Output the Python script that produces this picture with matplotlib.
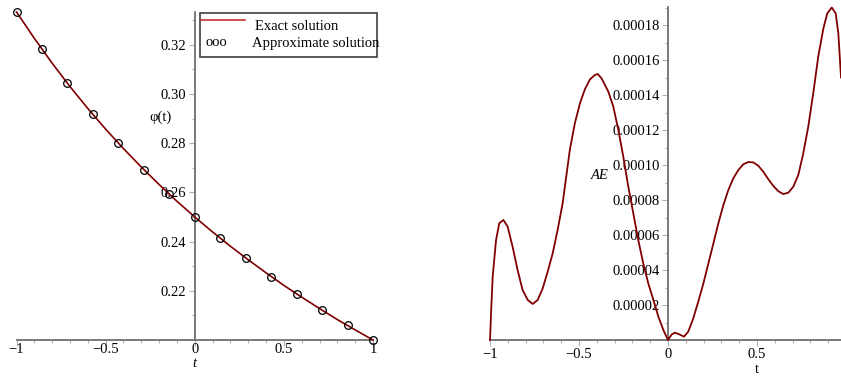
import matplotlib
matplotlib.use("Agg")
import matplotlib.pyplot as plt
from matplotlib.ticker import MultipleLocator
from matplotlib.patches import Rectangle
from matplotlib.lines import Line2D

plt.rcParams['font.family'] = ['Liberation Serif', 'DejaVu Serif']
plt.rcParams['font.size'] = 10.5

# ---- data ----
# exact solution curve
t_exact = [-1.0, -0.9, -0.8, -0.7, -0.6, -0.5, -0.4, -0.3, -0.2, -0.1, 0.0,
           0.1, 0.2, 0.3, 0.4, 0.5, 0.6, 0.7, 0.8, 0.9, 1.0]
phi_exact = [0.3333, 0.3226, 0.3125, 0.3030, 0.2941, 0.2857, 0.2778, 0.2703,
             0.2632, 0.2564, 0.2500, 0.2439, 0.2381, 0.2326, 0.2273, 0.2222,
             0.2174, 0.2128, 0.2083, 0.2041, 0.2000]

# approximate solution (markers)
t_approx = [-1.0, -0.857, -0.714, -0.571, -0.429, -0.286, -0.143, 0.0,
            0.143, 0.286, 0.429, 0.571, 0.714, 0.857, 1.0]
phi_approx = [0.3333, 0.3182, 0.3043, 0.2917, 0.2800, 0.2692, 0.2593, 0.2500,
              0.2414, 0.2333, 0.2258, 0.2188, 0.2121, 0.2059, 0.2000]

# absolute error
t_ae = [-1.0, -0.9925, -0.985, -0.966, -0.948, -0.925, -0.901, -0.873,
        -0.845, -0.817, -0.788, -0.760, -0.732, -0.704, -0.676, -0.648,
        -0.620, -0.592, -0.551, -0.523, -0.494, -0.466, -0.438, -0.410,
        -0.395, -0.373, -0.335, -0.307, -0.279, -0.251, -0.223, -0.195,
        -0.167, -0.139, -0.111, -0.082, -0.054, -0.026, 0.0,
        0.021, 0.039, 0.064, 0.090, 0.114, 0.142, 0.170, 0.199, 0.227,
        0.255, 0.283, 0.311, 0.339, 0.367, 0.395, 0.423, 0.451, 0.479,
        0.507, 0.535, 0.563, 0.592, 0.620, 0.648, 0.676, 0.704, 0.732,
        0.760, 0.788, 0.816, 0.844, 0.873, 0.895, 0.920, 0.942, 0.957, 0.972]
ae = [0.0, 1.9e-5, 3.62e-5, 5.71e-5, 6.67e-5, 6.86e-5, 6.48e-5, 5.33e-5,
      4.0e-5, 2.86e-5, 2.29e-5, 2.06e-5, 2.29e-5, 2.95e-5, 3.9e-5, 4.95e-5,
      6.29e-5, 7.81e-5, 1.09e-4, 1.24e-4, 1.355e-4, 1.435e-4, 1.49e-4,
      1.515e-4, 1.52e-4, 1.495e-4, 1.419e-4, 1.333e-4, 1.2e-4, 1.047e-4,
      8.76e-5, 7.24e-5, 5.71e-5, 4.38e-5, 3.24e-5, 2.29e-5, 1.33e-5, 5.7e-6,
      0.0,
      3.2e-6, 4.2e-6, 3.2e-6, 1.9e-6, 4.8e-6, 1.24e-5, 2.19e-5, 3.24e-5,
      4.38e-5, 5.52e-5, 6.67e-5, 7.71e-5, 8.57e-5, 9.24e-5, 9.71e-5,
      1.004e-4, 1.017e-4, 1.015e-4, 9.96e-5, 9.62e-5, 9.2e-5, 8.8e-5,
      8.5e-5, 8.34e-5, 8.42e-5, 8.76e-5, 9.43e-5, 1.067e-4, 1.219e-4,
      1.41e-4, 1.619e-4, 1.781e-4, 1.867e-4, 1.90e-4, 1.867e-4, 1.752e-4,
      1.50e-4]

curve_color = '#800000'
axis_color = '#707070'
tick_color = '#b0b0b0'

fig = plt.figure(figsize=(8.41, 3.76), dpi=100)


def fmt_num(v, p):
    if abs(v) < 1e-12:
        return '0'
    return ('%g' % v).replace('-', '\u2212')


def maple_axes(ax, xpad):
    for s in ['top', 'right']:
        ax.spines[s].set_visible(False)
    ax.spines['left'].set_position(('data', 0))
    for s in ['left', 'bottom']:
        ax.spines[s].set_color(axis_color)
        ax.spines[s].set_linewidth(1.3)
    ax.tick_params(which='major', direction='out', length=4, width=0.8,
                   color=tick_color, pad=2)
    ax.tick_params(which='minor', direction='out', length=2.5, width=0.8,
                   color=tick_color)
    ax.tick_params(axis='x', pad=xpad)
    ax.xaxis.set_major_locator(MultipleLocator(0.5))
    ax.xaxis.set_minor_locator(MultipleLocator(0.1))
    ax.xaxis.set_major_formatter(plt.FuncFormatter(fmt_num))
    ax.patch.set_alpha(0)


# -------- left: solutions --------
ax1 = fig.add_axes([16.5 / 841, 36 / 376, 356.5 / 841, 328 / 376])
ax1.plot(t_exact, phi_exact, color=curve_color, lw=1.2, zorder=3,
         clip_on=False)
ax1.plot(t_approx, phi_approx, 'o', mfc='none', mec='black', ms=5.5,
         mew=0.9, zorder=4, clip_on=False)
ax1.set_xlim(-1, 1)
ax1.set_ylim(0.2, 0.3333)
maple_axes(ax1, -1.5)
ax1.yaxis.set_minor_locator(MultipleLocator(0.01))
ax1.set_yticks([0.22, 0.24, 0.26, 0.28, 0.30, 0.32])
ax1.set_yticklabels(['0.22', '0.24', '0.26', '0.28', '0.30', '0.32'])
ax1.set_xlabel('t', style='italic', va='center')
ax1.xaxis.set_label_coords(0.5, -0.072)
ax1.set_ylabel('φ(t)', rotation=0, va='center', ha='center')
ax1.yaxis.set_label_coords(0.405, 0.68)

# legend drawn Maple-style
fig.patches.append(Rectangle((200 / 841, 1 - 57 / 376), 177 / 841, 44 / 376,
                             transform=fig.transFigure, fill=False,
                             edgecolor='#404040', lw=1.2))
fig.lines.append(Line2D([201 / 841, 245 / 841], [1 - 20 / 376, 1 - 20 / 376],
                        transform=fig.transFigure, color='#c83030', lw=1.2))
fig.text(255 / 841, 1 - 26 / 376, 'Exact solution', va='center', ha='left')
fig.text(205 / 841, 1 - 43 / 376, 'ooo', va='center', ha='left')
fig.text(252 / 841, 1 - 43 / 376, 'Approximate solution', va='center',
         ha='left')

# -------- right: absolute error --------
ax2 = fig.add_axes([490 / 841, 36 / 376, 356 / 841, 333 / 376])
ax2.plot(t_ae, ae, color=curve_color, lw=1.3, zorder=3, clip_on=False)
ax2.set_xlim(-1, 1)
ax2.set_ylim(0, 1.903e-4)
maple_axes(ax2, 2)
ax2.set_xticks([-1, -0.5, 0, 0.5])
ax2.yaxis.set_major_locator(MultipleLocator(2e-5))
ax2.yaxis.set_minor_locator(MultipleLocator(1e-5))
ax2.yaxis.set_major_formatter(plt.FuncFormatter(
    lambda v, p: '' if abs(v) < 1e-12 else '%.5f' % v))
ax2.set_xlabel('t', va='center')
ax2.xaxis.set_label_coords(0.75, -0.09)
ax2.set_ylabel('AE', style='italic', rotation=0, va='center', ha='center')
ax2.yaxis.set_label_coords(0.309, 0.495)

fig.savefig('out.png', dpi=100)
